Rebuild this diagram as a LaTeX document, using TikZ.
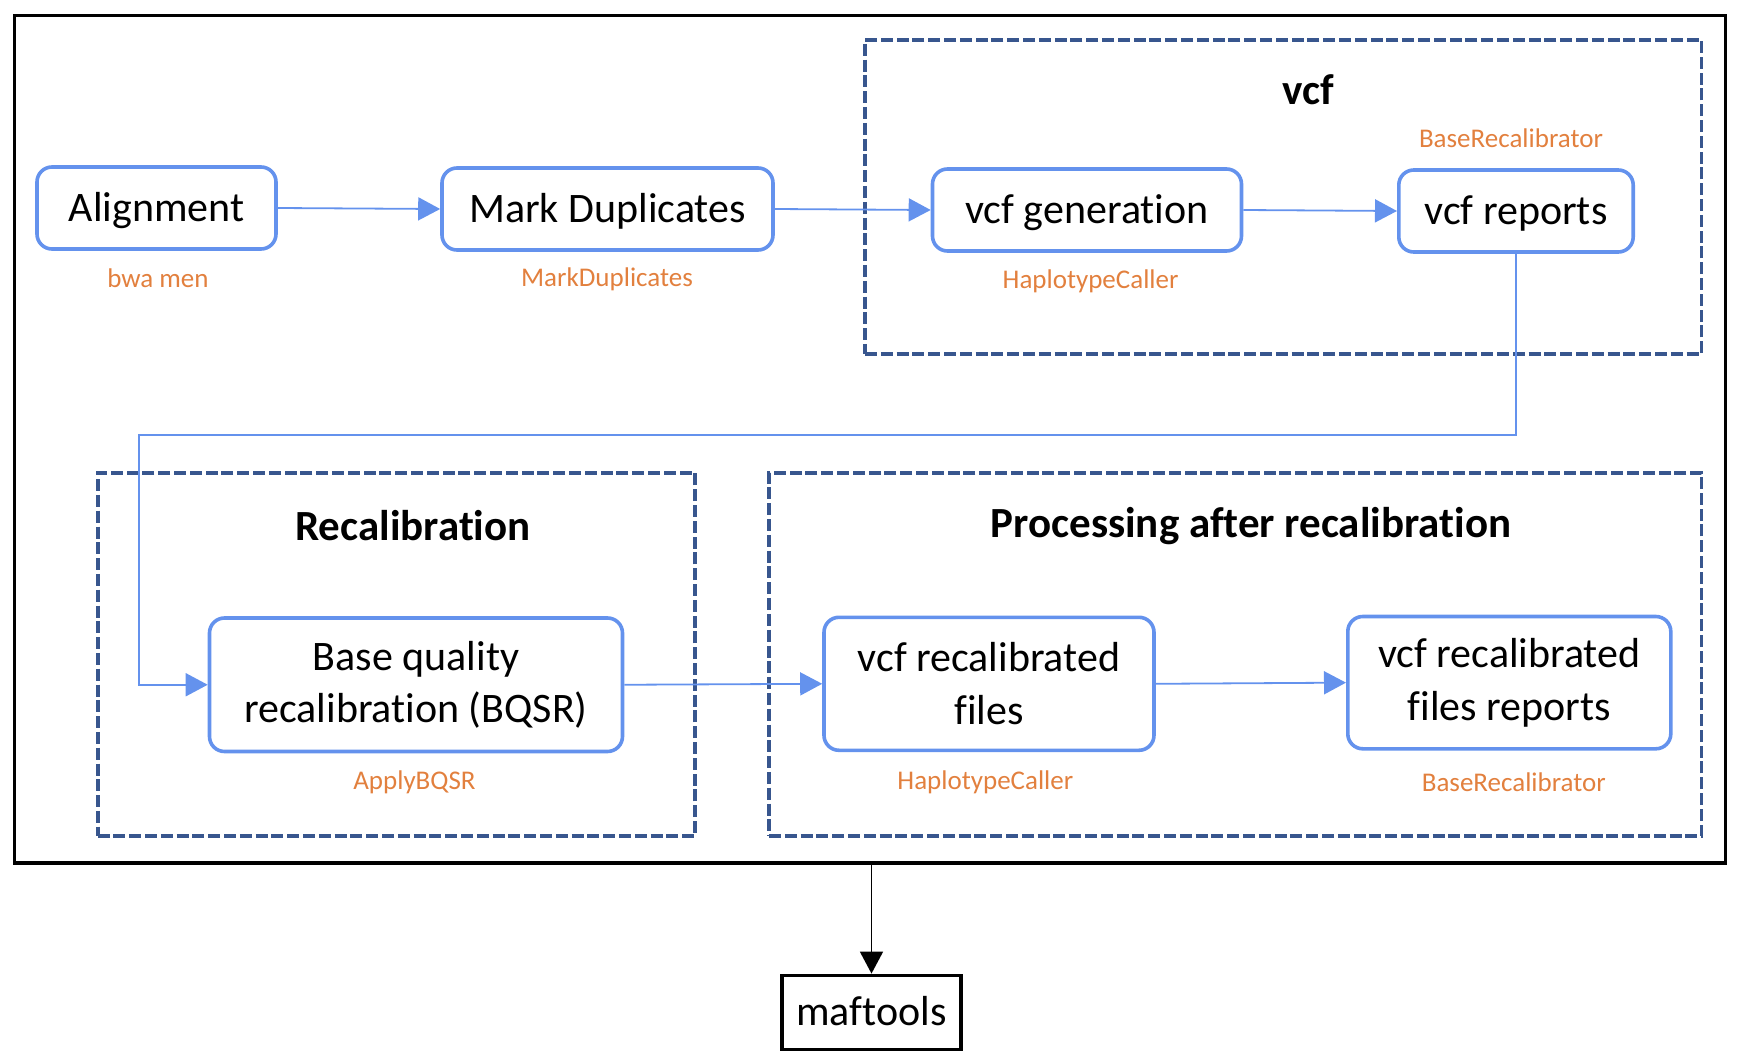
\documentclass[tikz,border=0pt]{standalone}
\usepackage{fontspec}
\setmainfont{Carlito}[Ligatures=NoCommon]
\usetikzlibrary{arrows.meta,calc}
\definecolor{boxblue}{RGB}{100,146,237}
\definecolor{navy}{RGB}{56,86,142}
\definecolor{toolc}{RGB}{226,128,62}
\begin{document}
\begin{tikzpicture}[x=0.5pt,y=-0.5pt,
  stepbox/.style={draw=boxblue, line width=1.8pt, rounded corners=7.5pt, fill=white, inner sep=0pt, align=center, font=\fontsize{21}{26.25}\selectfont},
  oneline/.style={text height=13.5pt, text depth=0pt},
  group/.style={draw=navy, line width=1.9pt, dash pattern=on 6pt off 1.9pt, inner sep=0pt},
  grouptitle/.style={font=\fontsize{21.5}{24}\selectfont\bfseries},
  tool/.style={text=toolc, font=\fontsize{13.5}{16}\selectfont, inner sep=0pt},
  conn/.style={draw=boxblue, line width=0.9pt, -{Triangle[length=11pt,width=11.5pt]}},
]
\useasboundingbox (0,0) rectangle (1742,1060);

% outer frame
\node[draw=black, line width=1.7pt, minimum width=855.5pt, minimum height=423.7pt, inner sep=0pt] (frame) at (870,439.4) {};

% groups
\node[group, minimum width=418.25pt, minimum height=157pt] (vcfgrp) at (1283.25,197) {};
\node[group, minimum width=298.5pt, minimum height=181.85pt] (recalgrp) at (396.1,654.45) {};
\node[group, minimum width=466.25pt, minimum height=181.85pt] (procgrp) at (1235.25,654.45) {};

\node[grouptitle] (t1) at (1308,90) {vcf};
\node[grouptitle] (t2) at (413,525.9) {Recalibration};
\node[grouptitle] (t3) at (1251,525.9) {Processing after recalibration};

% steps
\node[stepbox, oneline, minimum width=119.5pt, minimum height=41pt] (align) at (156.5,208) {Alignment};
\node[stepbox, oneline, minimum width=165.5pt, minimum height=41pt] (markdup) at (607.5,209) {Mark Duplicates};
\node[stepbox, oneline, minimum width=154.5pt, minimum height=41pt] (vcfgen) at (1087,210) {vcf generation};
\node[stepbox, oneline, minimum width=117.2pt, minimum height=41pt] (vcfrep) at (1516,211) {vcf reports};
\node[stepbox, minimum width=206.5pt, minimum height=66.75pt] (bqsr) at (416,684.75) {Base quality\\recalibration (BQSR)};
\node[stepbox, minimum width=165pt, minimum height=66.5pt] (recal) at (989,683.8) {vcf recalibrated\\files};
\node[stepbox, minimum width=161.5pt, minimum height=66.15pt] (recalrep) at (1509.3,682.65) {vcf recalibrated\\files reports};
\node[draw=black, line width=1.6pt, inner sep=0pt, minimum width=89.5pt, minimum height=36.95pt, text height=13.5pt, text depth=0pt, font=\fontsize{21}{22.5}\selectfont] (maftools) at (871.5,1012.15) {maftools};

% tool labels
\node[tool] (l1) at (158,278) {bwa men};
\node[tool] (l2) at (607,279) {MarkDuplicates};
\node[tool] (l3) at (1090.6,281) {HaplotypeCaller};
\node[tool] (l4) at (1511,138) {BaseRecalibrator};
\node[tool] (l5) at (414.5,782.6) {ApplyBQSR};
\node[tool] (l6) at (985.4,782.6) {HaplotypeCaller};
\node[tool] (l7) at (1513.8,782.6) {BaseRecalibrator};

% connectors
\coordinate (turn) at (139,435);
\draw[conn] (align.east) -- (markdup.west);
\draw[conn] (markdup.east) -- (vcfgen.west);
\draw[conn] (vcfgen.east) -- (vcfrep.west);
\draw[conn] (vcfrep.south) |- (turn) |- (bqsr.west);
\draw[conn] (bqsr.east) -- (recal.west);
\draw[conn] (recal.east) -- (recalrep.west);
\draw[black, line width=0.85pt, -{Triangle[length=11pt,width=11.5pt]}] (frame.south -| maftools.north) -- (maftools.north);
\end{tikzpicture}
\end{document}
